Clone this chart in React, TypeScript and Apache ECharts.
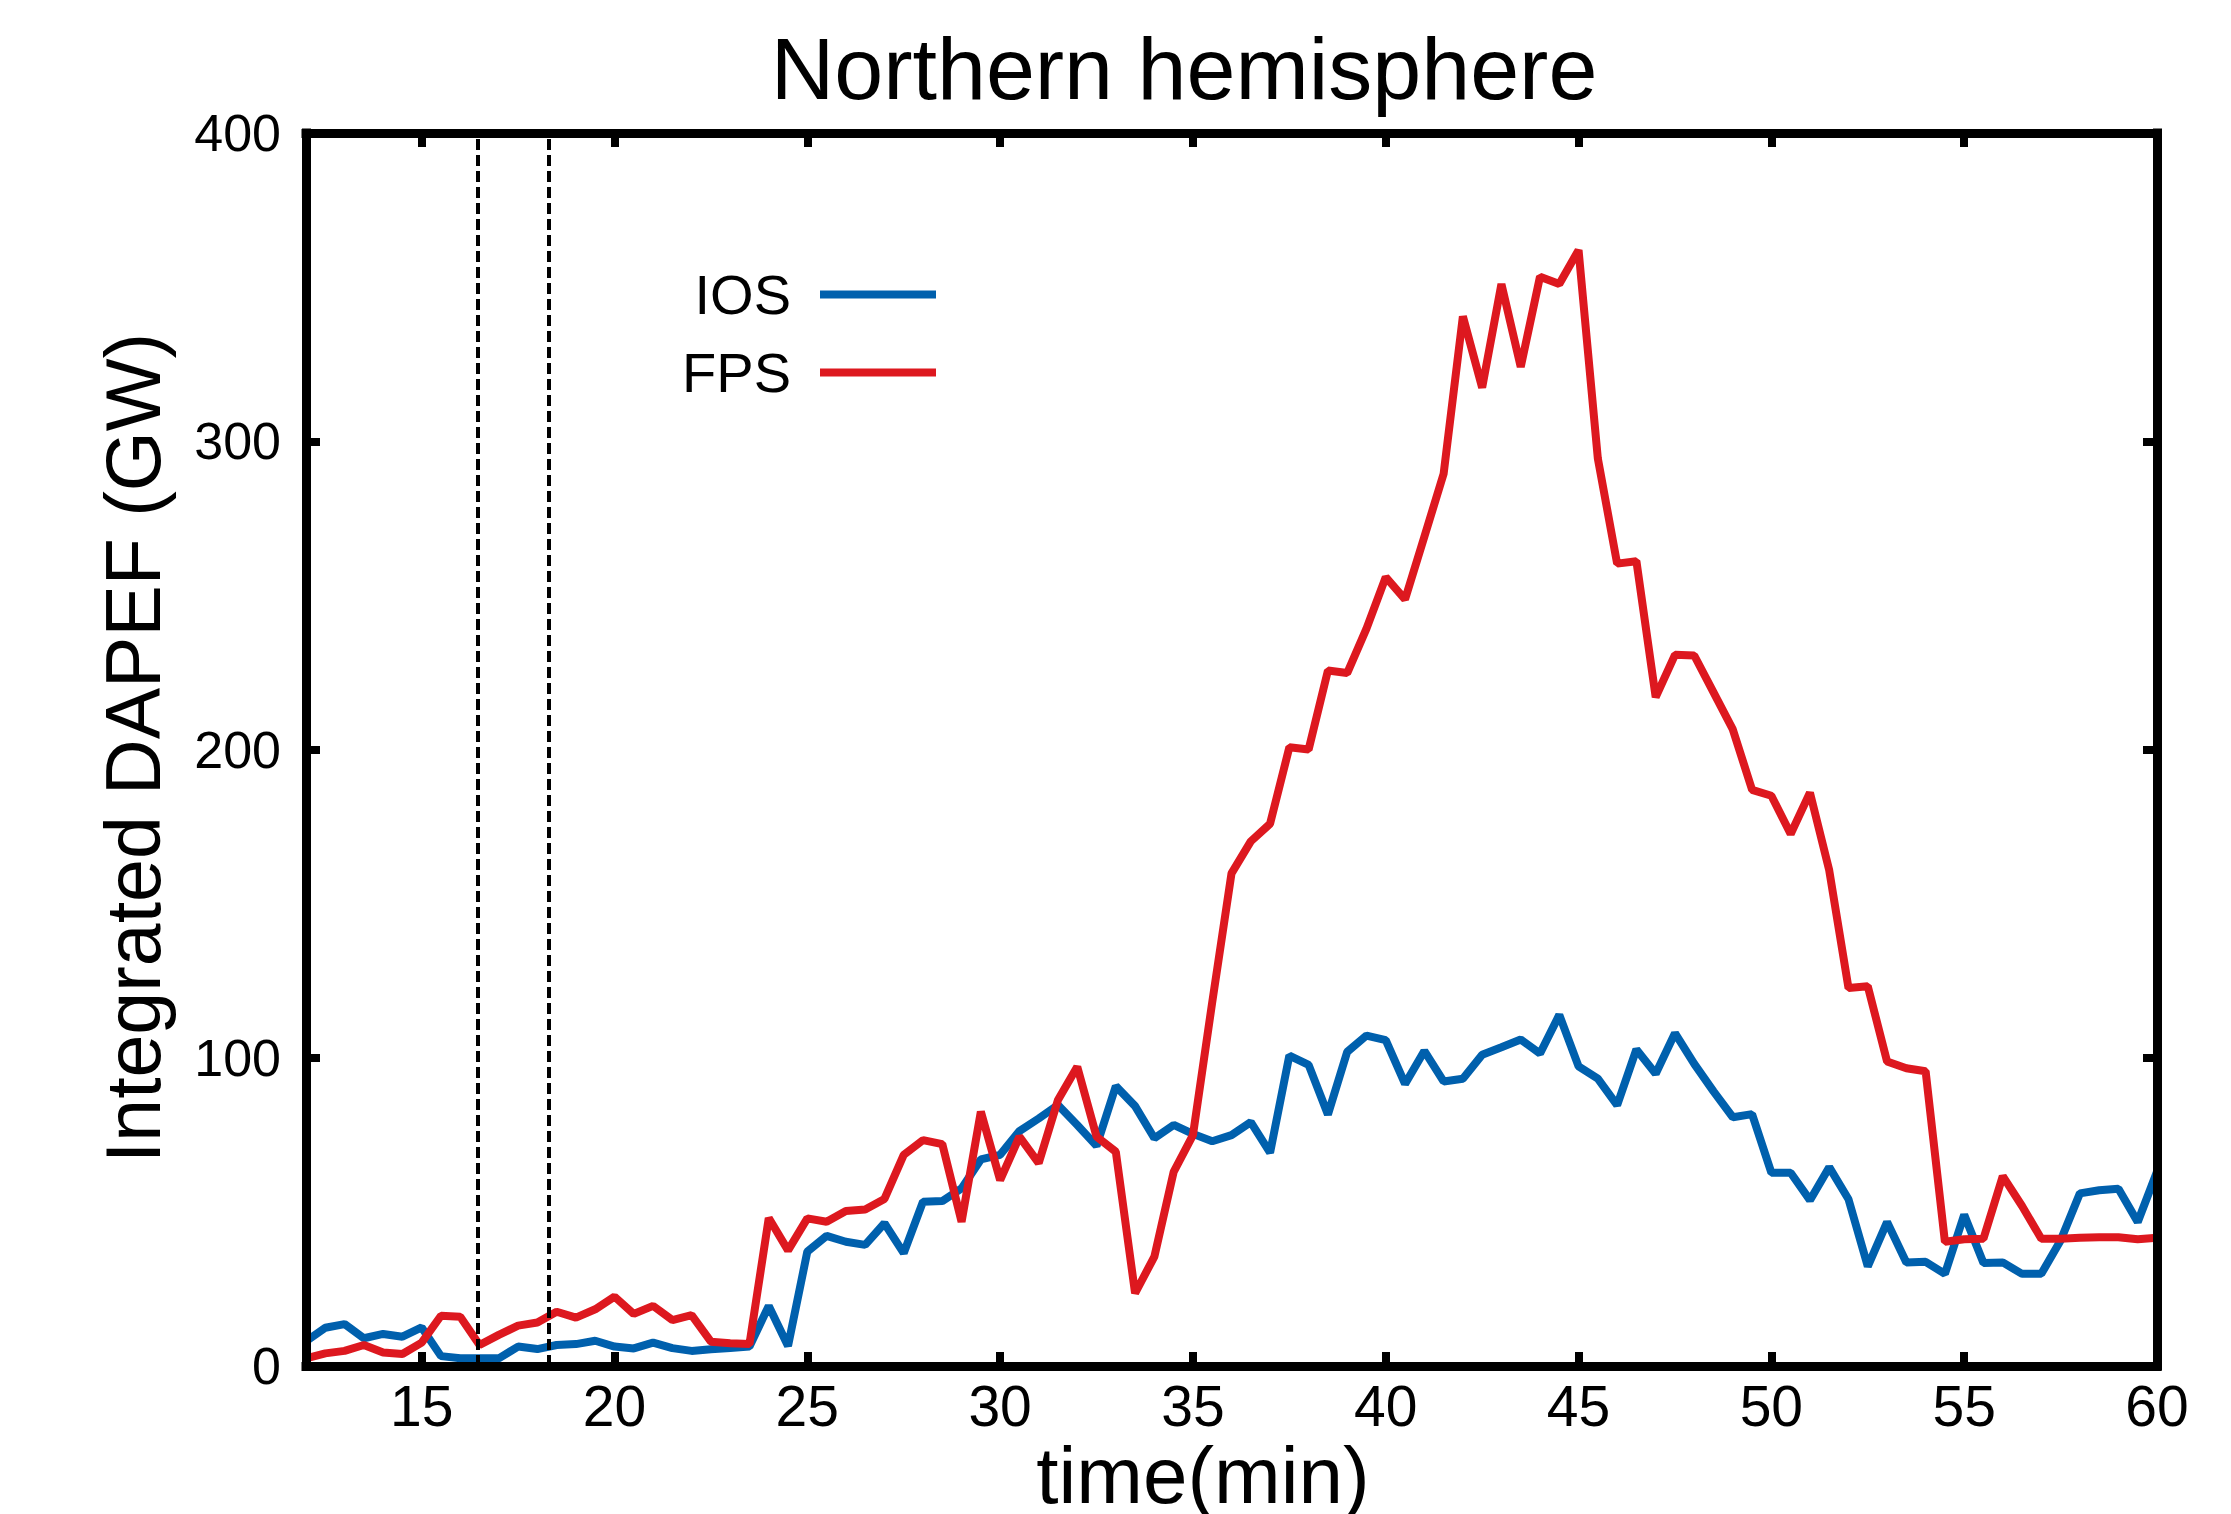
import React, { useEffect, useRef } from "react";
import * as echarts from "echarts";

const TIME_MIN = [
  12, 12.5, 13, 13.5, 14, 14.5, 15, 15.5, 16, 16.5, 17, 17.5, 18, 18.5, 19, 19.5,
  20, 20.5, 21, 21.5, 22, 22.5, 23, 23.5, 24, 24.5, 25, 25.5, 26, 26.5, 27, 27.5,
  28, 28.5, 29, 29.5, 30, 30.5, 31, 31.5, 32, 32.5, 33, 33.5, 34, 34.5, 35, 35.5,
  36, 36.5, 37, 37.5, 38, 38.5, 39, 39.5, 40, 40.5, 41, 41.5, 42, 42.5, 43, 43.5,
  44, 44.5, 45, 45.5, 46, 46.5, 47, 47.5, 48, 48.5, 49, 49.5, 50, 50.5, 51, 51.5,
  52, 52.5, 53, 53.5, 54, 54.5, 55, 55.5, 56, 56.5, 57, 57.5, 58, 58.5, 59, 59.5, 60,
];

const IOS = [
  8, 12.4, 13.6, 9, 10.4, 9.5, 12.5, 3.2, 2.5, 2.5, 2.5, 6.3, 5.5, 6.8, 7.1, 8.2,
  6.3, 5.7, 7.6, 5.8, 4.9, 5.4, 5.8, 6.3, 19.5, 6.5, 37.1, 42.2, 40.3, 39.3, 46.3, 36.6,
  53.3, 53.5, 57.6, 67, 68.5, 76.2, 80.3, 84.7, 78.2, 71.4, 90.8, 84.3, 73.9, 78.2, 75.3, 72.9,
  74.9, 79.1, 69.2, 100.7, 97.7, 81.6, 101.9, 107.2, 105.7, 91.5, 102.2, 92.3, 93.2, 101, 103.4, 105.9,
  101.4, 113.9, 97.2, 93.2, 84.6, 102.7, 94.8, 108, 98, 89.1, 80.7, 81.7, 62.7, 62.7, 53.8, 64.5,
  54.1, 32.3, 46.7, 33.6, 33.8, 29.9, 49.1, 33.4, 33.6, 29.9, 29.9, 40.7, 56, 57, 57.5, 46.7, 63,
];

const FPS = [
  2.5, 4.1, 4.9, 6.8, 4.4, 3.9, 7.6, 16.3, 16.0, 6.8, 10.1, 13.1, 14.1, 17.6, 15.7, 18.4,
  22.5, 16.9, 19.5, 14.9, 16.5, 7.9, 7.4, 7.1, 48, 37.5, 47.9, 46.8, 50.3, 50.8, 54.2, 68.5,
  73.3, 72, 46.8, 82.5, 60.3, 74.4, 65.8, 86.3, 97.1, 74.4, 69.5, 23.6, 35.5, 63, 74.9, 118,
  159.8, 170.2, 175.9, 200.7, 200, 225.6, 224.8, 239.2, 255.9, 248.7, 269, 289.4, 340.5, 317.4, 351, 324.1,
  353.4, 351, 362, 294.4, 260.3, 261.1, 217, 230.7, 230.5, 218.5, 206.5, 186.9, 185, 172.6, 186, 160.8,
  122.6, 123.2, 98.8, 96.6, 95.6, 40.3, 41.1, 41.3, 61.6, 51.9, 41.3, 41.3, 41.6, 41.8, 41.8, 41.1, 41.6,
];

const X_TICKS = [15, 20, 25, 30, 35, 40, 45, 50, 55, 60];
const EVENT_LINES = [16.45, 18.3];
const SERIES_NAMES = ["IOS", "FPS"];
const COLORS = ["#0060ad", "#dd181f"];

const FONT = "'Liberation Sans', Arial, Helvetica, sans-serif";

export default function App() {
  const ref = useRef<HTMLDivElement>(null);

  useEffect(() => {
    if (!ref.current) return;
    const chart = echarts.init(ref.current, undefined, { renderer: "svg" });

    const toPairs = (vals: number[]) => TIME_MIN.map((t, i) => [t, vals[i]]);

    const axisLine = {
      show: true,
      onZero: false,
      lineStyle: { color: "#000", width: 9, cap: "square" },
    };
    const tick = { show: true, inside: true, length: 14, lineStyle: { color: "#000", width: 8 } };

    chart.setOption({
      animation: false,
      backgroundColor: "#fff",
      grid: { left: 306, top: 133, width: 1851, height: 1233, containLabel: false },
      xAxis: [
        {
          type: "value",
          position: "bottom",
          min: 12,
          max: 60,
          z: 5,
          axisLine,
          axisTick: { ...tick, customValues: X_TICKS.slice(0, -1) },
          axisLabel: {
            customValues: X_TICKS,
            fontSize: 57,
            fontFamily: FONT,
            color: "#000",
            margin: 11,
          },
          splitLine: { show: false },
        },
        {
          type: "value",
          position: "top",
          min: 12,
          max: 60,
          z: 5,
          axisLine,
          axisTick: { ...tick, customValues: X_TICKS.slice(0, -1) },
          axisLabel: { show: false },
          splitLine: { show: false },
        },
      ],
      yAxis: [
        {
          type: "value",
          position: "left",
          min: 0,
          max: 400,
          interval: 100,
          z: 5,
          axisLine,
          axisTick: tick,
          axisLabel: { fontSize: 52, fontFamily: FONT, color: "#000", margin: 25 },
          splitLine: { show: false },
        },
        {
          type: "value",
          position: "right",
          min: 0,
          max: 400,
          interval: 100,
          z: 5,
          axisLine,
          axisTick: tick,
          axisLabel: { show: false },
          splitLine: { show: false },
        },
      ],
      series: [
        {
          name: SERIES_NAMES[0],
          type: "line",
          data: toPairs(IOS),
          showSymbol: false,
          symbol: "none",
          lineStyle: { color: COLORS[0], width: 8 },
          z: 2,
          markLine: {
            silent: true,
            symbol: "none",
            label: { show: false },
            lineStyle: { color: "#000", width: 4, type: [11, 5] },
            data: EVENT_LINES.map((x) => ({ xAxis: x })),
          },
        },
        {
          name: SERIES_NAMES[1],
          type: "line",
          data: toPairs(FPS),
          showSymbol: false,
          symbol: "none",
          lineStyle: { color: COLORS[1], width: 8 },
          z: 3,
        },
      ],
      graphic: [
        {
          type: "text",
          x: 1184,
          y: 68,
          style: {
            text: "Northern hemisphere",
            font: `88px ${FONT}`,
            fill: "#000",
            textAlign: "center",
            textVerticalAlign: "middle",
          },
        },
        {
          type: "text",
          x: 1203,
          y: 1475,
          style: {
            text: "time(min)",
            font: `80px ${FONT}`,
            fill: "#000",
            textAlign: "center",
            textVerticalAlign: "middle",
          },
        },
        {
          type: "text",
          x: 133,
          y: 748,
          rotation: Math.PI / 2,
          style: {
            text: "Integrated DAPEF (GW)",
            font: `77px ${FONT}`,
            fill: "#000",
            textAlign: "center",
            textVerticalAlign: "middle",
          },
        },
        {
          type: "text",
          x: 791,
          y: 294,
          style: {
            text: SERIES_NAMES[0],
            font: `56px ${FONT}`,
            fill: "#000",
            textAlign: "right",
            textVerticalAlign: "middle",
          },
        },
        {
          type: "text",
          x: 791,
          y: 372,
          style: {
            text: SERIES_NAMES[1],
            font: `56px ${FONT}`,
            fill: "#000",
            textAlign: "right",
            textVerticalAlign: "middle",
          },
        },
        {
          type: "line",
          shape: { x1: 820, y1: 294.5, x2: 936, y2: 294.5 },
          style: { stroke: COLORS[0], lineWidth: 8 },
        },
        {
          type: "line",
          shape: { x1: 820, y1: 372.5, x2: 936, y2: 372.5 },
          style: { stroke: COLORS[1], lineWidth: 8 },
        },
      ],
    });

    return () => chart.dispose();
  }, []);

  return (
    <div
      ref={ref}
      style={{ position: "absolute", left: 0, top: 0, width: 2231, height: 1514 }}
    />
  );
}
